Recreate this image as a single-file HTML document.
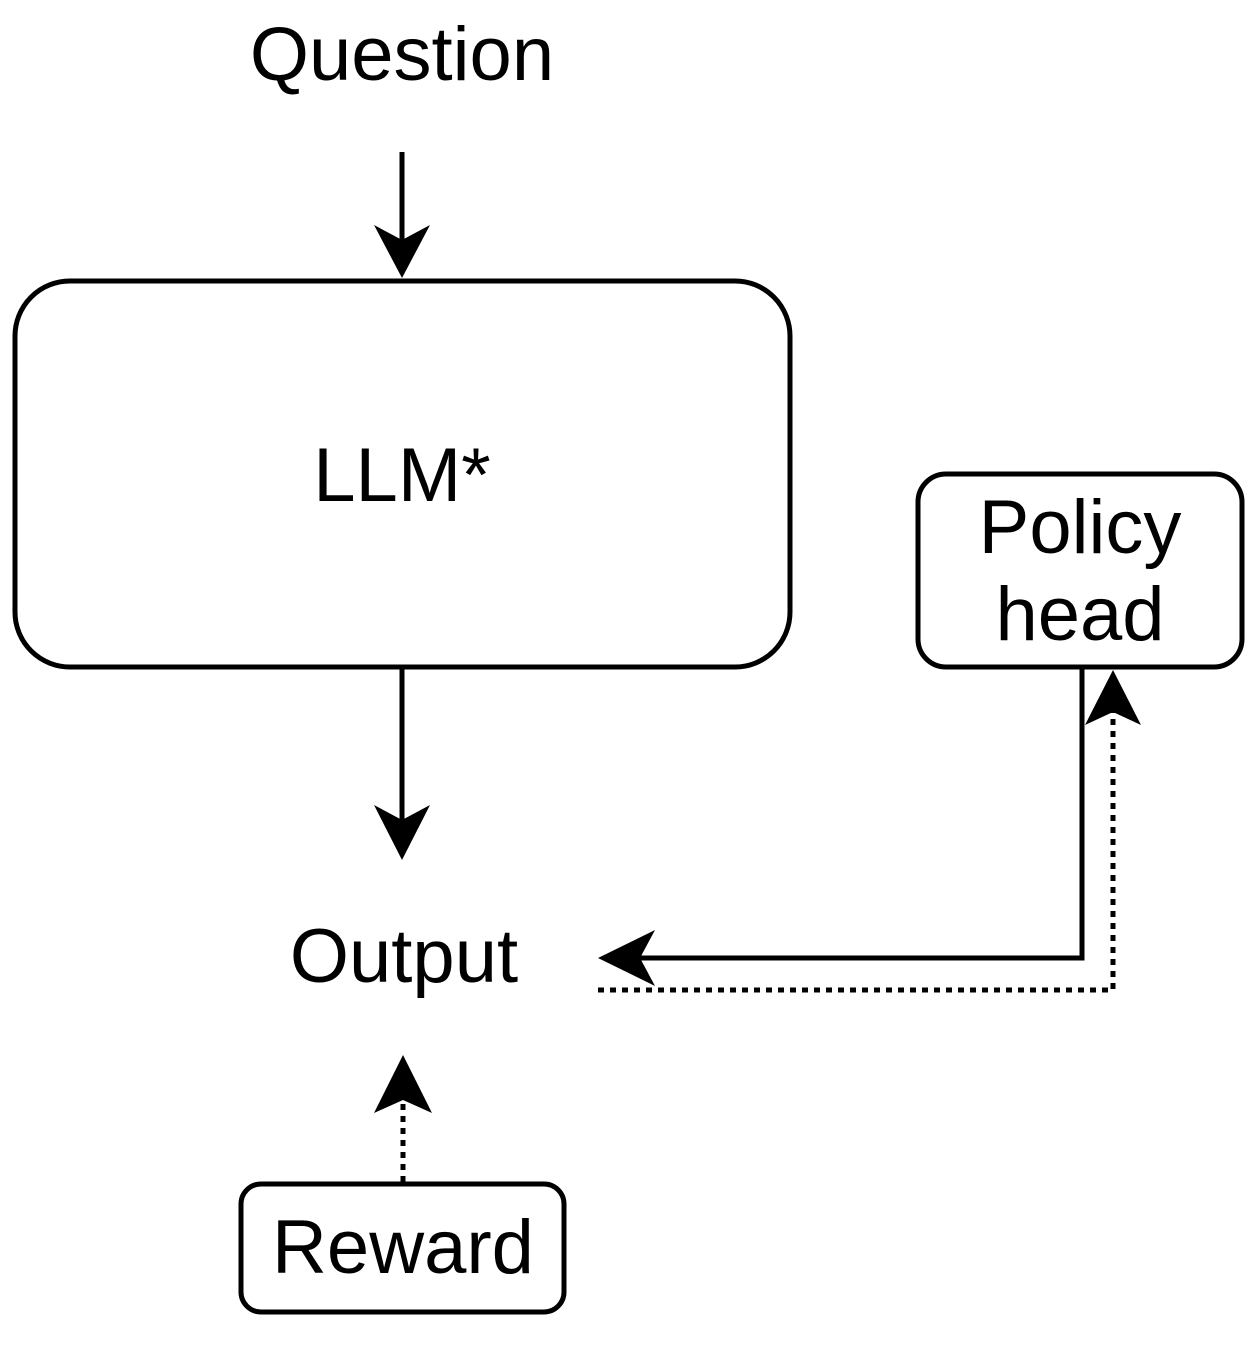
<!DOCTYPE html>
<html><head><style>html,body{margin:0;padding:0;background:#fff;}</style></head>
<body>
<svg width="1250" height="1340" viewBox="0 0 1250 1340" xmlns="http://www.w3.org/2000/svg" font-family="Liberation Sans, Arial, sans-serif" font-size="76">
<rect width="1250" height="1340" fill="#fff"/>
<g fill="none" stroke="#000" stroke-width="5">
<rect x="15" y="281" width="775" height="386" rx="55"/>
<rect x="918" y="474" width="324" height="193" rx="28"/>
<rect x="241" y="1184" width="323" height="128" rx="20"/>
<line x1="402" y1="152" x2="402" y2="260"/>
<line x1="402" y1="668" x2="402" y2="840"/>
<polyline points="1082,668 1082,958 620,958"/>
<g stroke-dasharray="6 6">
<polyline points="598,990 1113,990 1113,700"/>
<line x1="403" y1="1182" x2="403" y2="1090"/>
</g>
</g>
<g fill="#000">
<path d="M402,278 L374,225 L402,240 L430,225 Z"/>
<path d="M402,860 L374,805 L402,820 L430,805 Z"/>
<path d="M598,958 L655,930 L640,958 L655,986 Z"/>
<path d="M1113,670 L1085,725 L1113,712 L1141,725 Z"/>
<path d="M403,1055 L374,1113 L403,1100 L432,1113 Z"/>
</g>
<g fill="#000" text-anchor="middle">
<text x="402" y="80">Question</text>
<text x="402" y="501">LLM*</text>
<text x="404" y="982">Output</text>
<text x="1080" y="553">Policy</text>
<text x="1080" y="640">head</text>
<text x="403" y="1273">Reward</text>
</g>
</svg>
</body></html>
